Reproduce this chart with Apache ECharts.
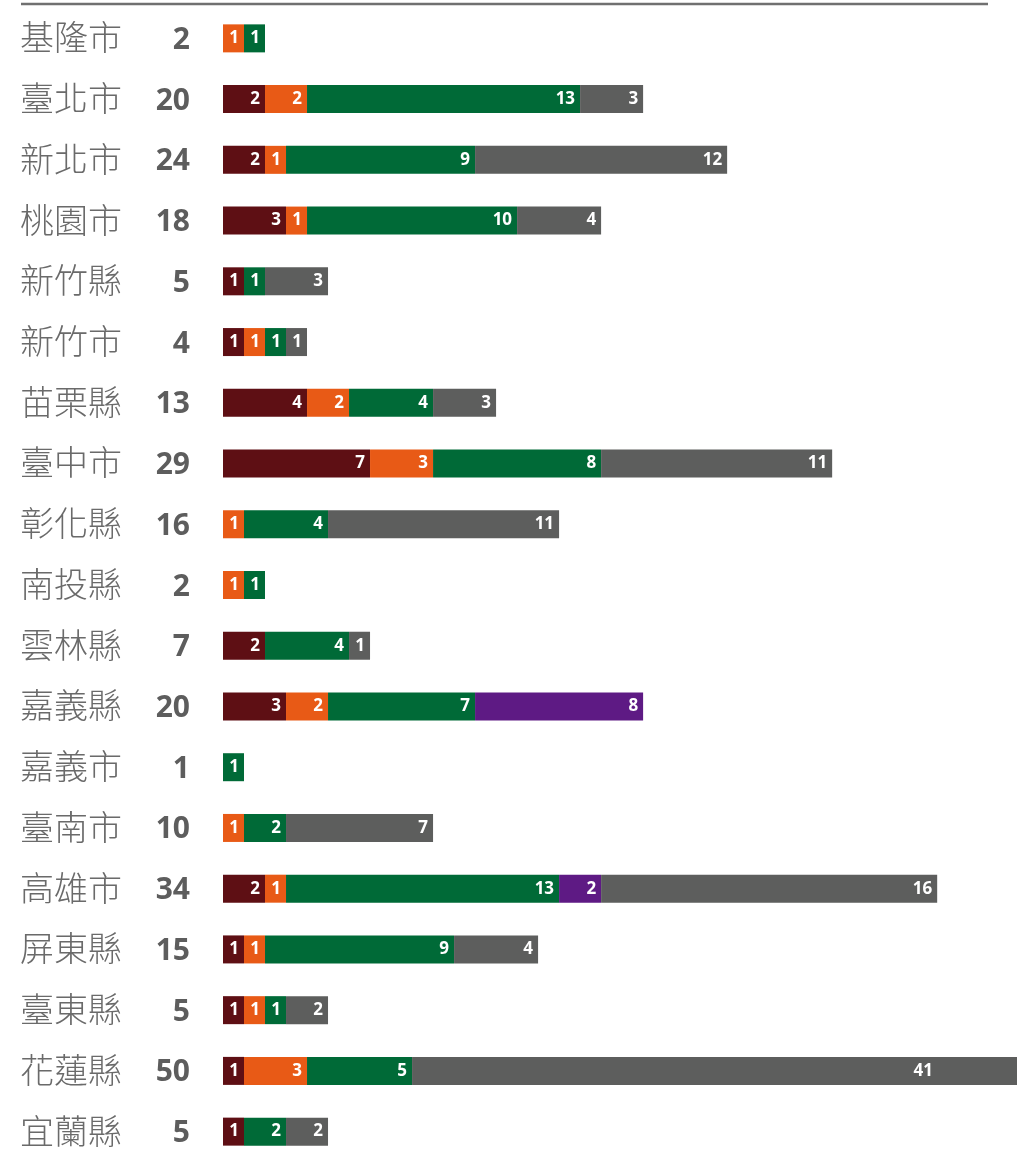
<!DOCTYPE html>
<html>
<head>
<meta charset="utf-8">
<script src="https://cdn.jsdelivr.net/npm/echarts@6/dist/echarts.min.js"></script>
<style>
  html, body { margin: 0; padding: 0; background: #fff; overflow: hidden; }
  #main { width: 1017px; height: 1162px; }
</style>
</head>
<body>
<div id="main"></div>
<script>
const counties = ['基隆市', '臺北市', '新北市', '桃園市', '新竹縣', '新竹市', '苗栗縣', '臺中市', '彰化縣', '南投縣',
  '雲林縣', '嘉義縣', '嘉義市', '臺南市', '高雄市', '屏東縣', '臺東縣', '花蓮縣', '宜蘭縣']
const darkRed = [0, 2, 2, 3, 1, 1, 4, 7, 0, 0, 2, 3, 0, 0, 2, 1, 1, 1, 1]
const orange  = [1, 2, 1, 1, 0, 1, 2, 3, 1, 1, 0, 2, 0, 1, 1, 1, 1, 3, 0]
const green   = [1, 13, 9, 10, 1, 1, 4, 8, 4, 1, 4, 7, 1, 2, 13, 9, 1, 5, 2]
const purple  = [0, 0, 0, 0, 0, 0, 0, 0, 0, 0, 0, 8, 0, 0, 2, 0, 0, 0, 0]
const gray    = [0, 3, 12, 4, 3, 1, 3, 11, 11, 0, 1, 0, 0, 7, 16, 4, 2, 41, 2]

const totals = counties.map((c, i) => darkRed[i] + orange[i] + green[i] + purple[i] + gray[i])
const xMax = 37.8

const chart = echarts.init(document.getElementById('main'))

function seg(name, data, color) {
  return {
    name: name,
    type: 'bar',
    stack: 'all',
    // 超出右邊界的那一段，標籤往左移
    data: data.map((v, i) => totals[i] > xMax && v === Math.max(darkRed[i], orange[i], green[i], purple[i], gray[i])
      ? { value: v, label: { offset: [-79, 0] } } : v),
    barWidth: 28,
    clip: true,
    itemStyle: { color: color },
    label: {
      show: true,
      position: 'insideRight',
      distance: 5,
      color: '#fff',
      fontFamily: 'Open Sans',
      fontWeight: 'bold',
      fontSize: 17,
      formatter: p => p.value ? String(p.value) : ''
    }
  }
}

chart.setOption({
  animation: false,
  graphic: [{
    type: 'line',
    shape: { x1: 21, y1: 4, x2: 988, y2: 4 },
    style: { stroke: '#707070', lineWidth: 2.5 }
  }],
  grid: { left: 223, right: 0, top: 8, bottom: 0 },
  xAxis: {
    type: 'value',
    min: 0,
    max: xMax,
    show: false
  },
  yAxis: {
    type: 'category',
    inverse: true,
    data: counties,
    axisLine: { show: false },
    axisTick: { show: false },
    axisLabel: {
      align: 'left',
      margin: 203,
      formatter: (v, i) => '{n|' + v + '}{t|' + totals[i] + '}',
      rich: {
        n: { width: 130, fontFamily: 'Noto Sans CJK TC', fontWeight: 300, fontSize: 34, color: '#6a6a6a', padding: [0, 0, 2, 0] },
        t: { width: 40, align: 'right', fontFamily: 'Open Sans', fontWeight: 'bold', fontSize: 30, color: '#5d5d5d', padding: [4, 0, 0, 0] }
      }
    }
  },
  series: [
    seg('darkRed', darkRed, '#5e0f14'),
    seg('orange', orange, '#e85a16'),
    seg('green', green, '#006a37'),
    seg('purple', purple, '#5e1a84'),
    seg('gray', gray, '#5d5e5d')
  ]
})
</script>
</body>
</html>
